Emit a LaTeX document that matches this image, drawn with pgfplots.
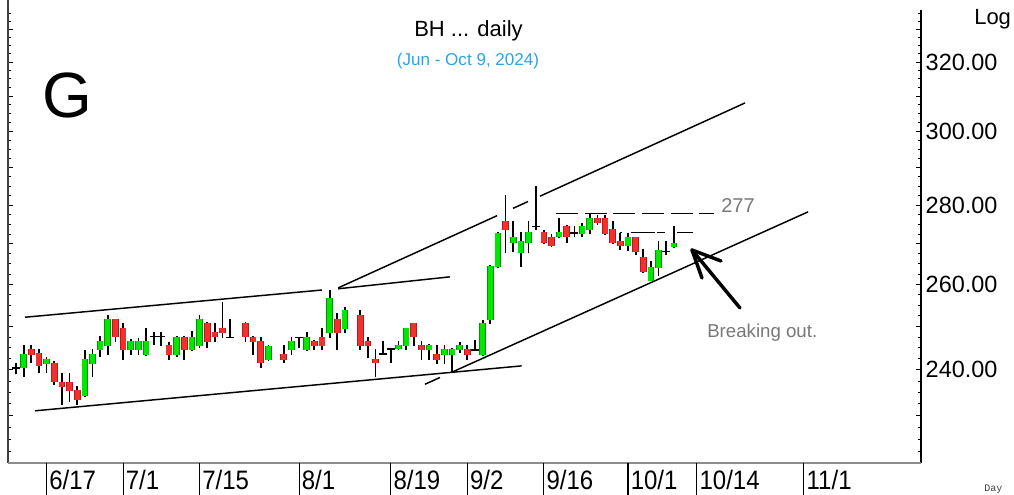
\documentclass[border=0pt]{standalone}
\usepackage{pgfplots}
\pgfplotsset{compat=1.18}
\usepackage{pgfplotstable}
\usepackage{fontspec}
\setmainfont{Liberation Sans}
\newfontfamily\datefont[FakeStretch=0.9]{Liberation Sans}
\newfontfamily\dayfont{Liberation Mono}

\definecolor{upfill}{RGB}{0,232,0}
\definecolor{upedge}{RGB}{0,150,0}
\definecolor{dnfill}{RGB}{242,48,48}
\definecolor{dnedge}{RGB}{185,25,25}
\definecolor{subblue}{RGB}{40,165,230}
\definecolor{annot}{RGB}{120,120,120}

% x = trading-day index (0 = 6/17), y = price
\pgfplotstableread{
i o h l c
-3 240.4 245.7 238.4 243.6
0 241.3 243.0 239.3 242.4
5 234.3 244.5 234.1 242.5
6 241.3 244.7 238.5 243.6
7 244.4 247.7 243.0 246.6
8 245.3 252.6 243.4 251.6
11 244.5 247.0 243.4 246.6
12 244.5 247.3 243.4 246.6
13 243.4 249.5 243.1 246.6
17 243.4 247.8 243.0 247.6
19 244.5 248.9 244.3 247.6
20 245.3 252.6 245.0 251.6
29 242.3 245.7 242.0 245.5
32 244.5 247.6 243.4 246.6
34 244.5 248.7 244.3 247.4
37 248.4 258.5 247.2 256.6
39 249.3 254.5 248.4 253.7
46 244.7 246.6 244.5 245.7
47 245.5 249.6 244.5 249.5
50 244.5 245.8 242.3 245.7
52 243.4 245.7 241.3 244.7
53 243.4 245.0 239.3 244.7
54 244.5 246.4 243.8 245.7
57 243.4 251.5 243.2 250.7
58 251.5 264.6 250.5 264.5
59 264.3 273.0 264.0 272.7
61 270.3 275.7 268.0 271.7
62 267.6 273.1 264.2 270.6
63 270.3 275.7 267.6 272.9
67 271.7 276.5 271.4 272.9
70 272.5 275.4 271.7 274.6
71 273.6 277.7 272.5 276.5
76 269.5 272.7 268.3 271.7
79 260.9 265.8 260.7 264.3
80 263.9 270.6 262.0 268.5
82 269.2 274.6 269.0 270.3
}\upcandles

\pgfplotstableread{
i o h l c
-2 244.7 245.7 241.6 243.4
-1 243.8 244.7 239.3 240.9
1 241.6 242.0 236.7 237.4
2 237.4 239.3 232.3 236.3
3 237.4 239.4 233.0 235.4
4 235.6 236.4 232.3 233.4
9 251.6 251.7 246.4 247.4
10 249.5 250.7 242.3 244.4
16 245.7 246.4 242.3 243.4
18 247.6 247.8 242.3 244.5
21 250.7 250.9 245.0 246.3
22 248.7 250.7 246.4 247.4
23 249.5 255.8 247.2 248.4
26 250.7 250.9 246.4 247.4
27 247.6 247.8 243.4 246.4
28 246.6 247.6 240.4 241.5
31 243.6 245.7 241.5 242.3
35 246.6 246.7 244.4 245.3
36 247.4 249.5 244.4 245.4
38 251.6 253.2 244.5 248.4
41 252.6 253.8 244.5 245.5
42 246.6 247.6 242.6 245.5
43 242.4 244.7 238.5 241.5
48 250.7 250.8 245.5 247.4
49 245.7 246.6 242.3 244.5
51 243.6 245.7 241.3 242.3
55 244.7 245.7 242.3 243.4
60 275.7 282.6 267.6 273.6
65 272.9 273.5 270.0 270.3
66 271.7 272.5 269.2 269.5
68 274.6 274.8 270.3 271.7
72 276.5 277.4 274.8 275.4
73 276.5 277.4 272.3 272.5
74 273.7 275.7 270.0 270.3
75 270.6 272.7 268.5 269.5
77 271.7 271.8 267.2 268.0
78 266.7 268.7 262.7 263.1
}\dncandles

\pgfplotstableread{
i h l c
-4 241.5 239.0 240.4
14 248.7 245.7 247.6
15 248.7 245.5 247.6
24 251.6 247.2 247.4
33 247.6 244.9 247.4
44 246.6 243.4 243.6
45 244.8 241.5 244.7
56 246.8 244.4 244.5
64 284.9 273.6 274.4
69 274.6 271.7 272.7
81 270.6 267.2 268.0
}\dojis

\pgfplotsset{
  wick/.style={draw=none, mark=none, forget plot,
    error bars/.cd, y dir=plus, y explicit, error mark=none,
    error bar style={black, line width=1.3pt}},
  body/.style 2 args={draw=none, mark=none, forget plot,
    error bars/.cd, y dir=plus, y explicit, error mark=none,
    error bar style={#1, line width=#2, line cap=butt}},
  trend/.style={black, line width=1.1pt, forget plot},
}

\begin{document}
\begin{tikzpicture}
\useasboundingbox (0,0) rectangle (760.5pt,371.25pt);
\begin{axis}[
  at={(6pt,24pt)}, anchor=south west,
  width=684.75pt, height=341.25pt, scale only axis,
  xmin=-5.046, xmax=114.30,
  ymode=log, ymin=220.02, ymax=336.62,
  axis line style={draw=none},
  xtick=\empty,
  ytick={240,260,280,300,320},
  yticklabels={240.00,260.00,280.00,300.00,320.00},
  extra y ticks={230,250,270,290,310,330},
  extra y tick labels={},
  minor ytick={222.5,225,227.5,230,232.5,235,237.5,240,242.5,245,247.5,250,252.5,255,257.5,260,262.5,265,267.5,270,272.5,275,277.5,280,282.5,285,287.5,290,292.5,295,297.5,300,302.5,305,307.5,310,312.5,315,317.5,320,322.5,325,327.5,330,332.5,335},
  ytick pos=both, yticklabel pos=right,
  tick align=inside,
  major tick length=3.75pt, minor tick length=2.2pt,
  tick style={black, line width=0.6pt},
  yticklabel style={font=\fontsize{17.6}{20}\selectfont, anchor=west},
]
% trend lines
\addplot[trend] coordinates {(-2.82,252.1) (36.0,258.6)};
\addplot[trend] coordinates {(-1.52,231.0) (62.1,240.9)};
\addplot[trend] coordinates {(38.1,258.9) (52.7,261.8)};
\addplot[trend] coordinates {(38.1,259.1) (58.88,277.2)};
\addplot[trend] coordinates {(60.97,279.1) (62.93,280.9)};
\addplot[trend] coordinates {(64.5,282.3) (91.3,308.0)};
\addplot[trend] coordinates {(49.46,236.8) (51.42,238.3)};
\addplot[trend] coordinates {(53.0,239.5) (99.54,278.2)};
\addplot[trend, dash pattern=on 16.5pt off 5pt] coordinates {(66.6,277.8) (87.2,277.8)};
\addplot[trend, dash pattern=on 1.5pt off 6.75pt on 18pt off 1.5pt on 6pt off 9pt on 12pt off 1pt] coordinates {(74.95,272.9) (84.5,272.9)};

% wicks
\addplot[wick] table[x=i, y=l, y error plus expr=\thisrow{h}-\thisrow{l}] {\upcandles};
\addplot[wick] table[x=i, y=l, y error plus expr=\thisrow{h}-\thisrow{l}] {\dncandles};
\addplot[wick] table[x=i, y=l, y error plus expr=\thisrow{h}-\thisrow{l}] {\dojis};
% bodies
\addplot[body={upedge}{5.0pt}] table[x=i, y=o, y error plus expr=\thisrow{c}-\thisrow{o}] {\upcandles};
\addplot[body={upfill}{3.8pt}] table[x=i, y=o, y error plus expr=\thisrow{c}-\thisrow{o}] {\upcandles};
\addplot[body={dnedge}{5.0pt}] table[x=i, y=c, y error plus expr=\thisrow{o}-\thisrow{c}] {\dncandles};
\addplot[body={dnfill}{3.8pt}] table[x=i, y=c, y error plus expr=\thisrow{o}-\thisrow{c}] {\dncandles};
% doji
\addplot[only marks, mark=-, mark size=3pt, mark options={black, line width=1.1pt}, forget plot] table[x=i, y=c] {\dojis};
\end{axis}

\begin{scope}[x=0.75pt, y=-0.75pt, shift={(0pt,371.25pt)}]
  \draw[line width=1.1pt, black!75] (8,0) -- (8,463);
  \draw[line width=0.8pt, black] (921,10) -- (921,463);
  \draw[line width=1.5pt, black!45] (8,463) -- (921,463);
  \foreach \d in {46.6,123.1,199.6,299.05,390.85,467.35,543.85,628.0,696.85,803.95}
    \draw[line width=0.8pt, black] (\d,463) -- (\d,495);
  \begin{scope}[every node/.style={anchor=base west, inner sep=0pt, font=\datefont\fontsize{20}{22}\selectfont}]
    \node at (49.1,490) {6/17};
    \node at (125.6,490) {7/1};
    \node at (202.1,490) {7/15};
    \node at (301.5,490) {8/1};
    \node at (393.3,490) {8/19};
    \node at (469.8,490) {9/2};
    \node at (546.3,490) {9/16};
    \node at (630.5,490) {10/1};
    \node at (699.3,490) {10/14};
    \node at (806.4,490) {11/1};
  \end{scope}
  \node[anchor=base, inner sep=0pt, font=\fontsize{16.5}{18}\selectfont] at (468.5,37) {BH ... daily};
  \node[anchor=base, inner sep=0pt, font=\fontsize{12.8}{14}\selectfont, text=subblue] at (468,66) {(Jun - Oct 9, 2024)};
  \node[anchor=base west, inner sep=0pt, font=\fontsize{48}{50}\selectfont] at (42,118) {G};
  \node[anchor=base west, inner sep=0pt, font=\fontsize{16.5}{18}\selectfont] at (974,25) {Log};
  \node[anchor=base west, inner sep=0pt, font=\fontsize{15}{16}\selectfont, text=annot] at (721,213) {277};
  \node[anchor=base west, inner sep=0pt, font=\fontsize{14}{16}\selectfont, text=annot] at (707,338) {Breaking out.};
  \node[anchor=base west, inner sep=0pt, font=\dayfont\fontsize{7.5}{8}\selectfont, text=black!75] at (984,492) {Day};
  \draw[line width=2.6pt, line cap=round] (740,308) -- (692,250);
  \draw[line width=2.6pt, line cap=round, line join=round] (721,261) -- (692,250) -- (702,278);
\end{scope}
\end{tikzpicture}
\end{document}
